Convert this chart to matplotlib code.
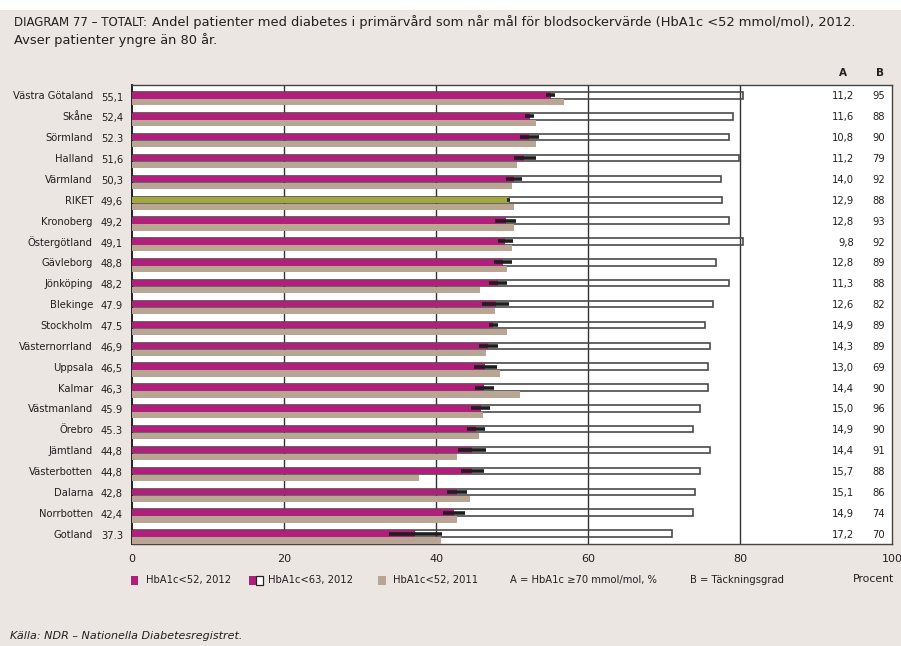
import matplotlib
matplotlib.use('Agg')
import matplotlib.pyplot as plt
from matplotlib.patches import Rectangle
import matplotlib.transforms as mtransforms

# ---------------- data ----------------
regions = ["Västra Götaland", "Skåne", "Sörmland", "Halland", "Värmland", "RIKET",
           "Kronoberg", "Östergötland", "Gävleborg", "Jönköping", "Blekinge",
           "Stockholm", "Västernorrland", "Uppsala", "Kalmar", "Västmanland",
           "Örebro", "Jämtland", "Västerbotten", "Dalarna", "Norrbotten", "Gotland"]
value_labels = ["55,1", "52,4", "52.3", "51,6", "50,3", "49,6", "49,2", "49,1", "48,8",
                "48,2", "47.9", "47.5", "46,9", "46,5", "46,3", "45.9", "45.3", "44,8",
                "44,8", "42,8", "42,4", "37.3"]
hba1c52_2012 = [55.1, 52.4, 52.3, 51.6, 50.3, 49.6, 49.2, 49.1, 48.8, 48.2, 47.9,
                47.5, 46.9, 46.5, 46.3, 45.9, 45.3, 44.8, 44.8, 42.8, 42.4, 37.3]
hba1c63_2012 = [80.4, 79.1, 78.6, 79.9, 77.5, 77.6, 78.6, 80.4, 76.8, 78.6, 76.5,
                75.4, 76.0, 75.8, 75.8, 74.8, 73.8, 76.0, 74.8, 74.1, 73.8, 71.0]
hba1c52_2011 = [56.8, 53.2, 53.2, 50.7, 50.0, 50.3, 50.3, 50.0, 49.4, 45.8, 47.8,
                49.3, 46.6, 48.4, 51.1, 46.2, 45.6, 42.8, 37.8, 44.5, 42.8, 40.7]
ci_low = [54.5, 51.7, 51.0, 50.2, 49.2, 49.3, 47.8, 48.2, 47.6, 47.0, 46.0,
          47.0, 45.7, 45.0, 45.1, 44.6, 44.1, 42.9, 43.3, 41.4, 40.9, 33.8]
ci_high = [55.7, 52.9, 53.5, 53.2, 51.3, 49.8, 50.5, 50.1, 50.0, 49.3, 49.6,
           48.1, 48.1, 48.0, 47.6, 47.1, 46.4, 46.6, 46.3, 44.1, 43.8, 40.8]
col_a = [11.2, 11.6, 10.8, 11.2, 14.0, 12.9, 12.8, 9.8, 12.8, 11.3, 12.6,
         14.9, 14.3, 13.0, 14.4, 15.0, 14.9, 14.4, 15.7, 15.1, 14.9, 17.2]
col_b = [95, 88, 90, 79, 92, 88, 93, 92, 89, 88, 82, 89, 89, 69, 90, 96, 90, 91, 88, 86, 74, 70]
xticks = [0, 20, 40, 60, 80, 100]

# ---------------- style ----------------
plt.rcParams['font.family'] = ['DejaVu Sans']
BG = '#ebe6e1'
MAGENTA = '#b0207a'
BEIGE = '#b9a594'
GREEN = '#a4a83c'
TXT = '#231f20'
FS = 7.2

W, H = 901, 646
fig = plt.figure(figsize=(W / 100, H / 100), dpi=100, facecolor=BG)


def fx(x):
    return x / W


def fy(y):
    return 1 - y / H


# white strip at the very top
fig.patches.append(Rectangle((0, fy(10)), 1, 10 / H, transform=fig.transFigure,
                             facecolor='white', edgecolor='none', zorder=0))

ax = fig.add_axes([fx(132), fy(544), fx(892) - fx(132), (544 - 85) / H])
ax.set_facecolor('white')
n = len(regions)
ys = list(range(n))
ax.set_xlim(0, 100)
ax.set_ylim(n - 0.5, -0.5)

for g in [20, 40, 60, 80]:
    ax.axvline(g, color='#333333', lw=1.0, zorder=1)

h = 0.31
# outline bar (HbA1c<63)
ax.barh(ys, hba1c63_2012, height=h, left=0, facecolor='none', edgecolor='#4a4a4a',
        lw=1.2, zorder=2)
# 2011 bars
ax.barh([y + 0.33 for y in ys], hba1c52_2011, height=0.30, color=BEIGE, zorder=3)
# 2012 bars
cols = [GREEN if r == 'RIKET' else MAGENTA for r in regions]
ax.barh(ys, hba1c52_2012, height=h, color=cols, zorder=4)
# confidence intervals
ax.hlines(ys, ci_low, ci_high, color='#1e1e1e', lw=2.6, zorder=5)

for s in ax.spines.values():
    s.set_color('#444444')
    s.set_linewidth(1.0)
ax.spines['left'].set_color('#222222')
ax.spines['left'].set_linewidth(1.4)

ax.set_yticks([])
ax.set_xticks(xticks)
ax.set_xticklabels([str(t) for t in xticks], fontsize=8, color=TXT)
ax.tick_params(axis='x', length=0, pad=7)

# category labels & values
blend = mtransforms.blended_transform_factory(fig.transFigure, ax.transData)
for i, (r, v) in enumerate(zip(regions, value_labels)):
    ax.text(fx(93), i + 0.05, r, transform=blend, ha='right', va='center',
            fontsize=FS, color=TXT, clip_on=False)
    ax.text(fx(101), i + 0.1, v, transform=blend, ha='left', va='center',
            fontsize=FS, color=TXT, clip_on=False)
    ax.text(fx(854), i + 0.05, f"{col_a[i]:.1f}".replace('.', ','), transform=blend,
            ha='right', va='center', fontsize=FS, color=TXT, clip_on=False)
    ax.text(fx(885), i + 0.05, str(col_b[i]), transform=blend,
            ha='right', va='center', fontsize=FS, color=TXT, clip_on=False)

fig.text(fx(843), fy(73), "A", ha='center', va='center', fontsize=7.5, color=TXT,
         weight='bold')
fig.text(fx(880), fy(73), "B", ha='center', va='center', fontsize=7.5, color=TXT,
         weight='bold')

# title
fig.canvas.draw()
renderer = fig.canvas.get_renderer()
t1 = fig.text(fx(14), fy(22), "DIAGRAM 77 – TOTALT:", ha='left', va='center',
              fontsize=8.5, color=TXT)
bb = t1.get_window_extent(renderer)
t2 = fig.text(bb.x1 / W + fx(5), fy(22),
              "Andel patienter med diabetes i primärvård som når mål för blodsockervärde (HbA1c <52 mmol/mol), 2012.",
              ha='left', va='center', fontsize=10, color=TXT)
wt = t2.get_window_extent(renderer).width
tfs = 10 * 703 / wt
t2.set_fontsize(tfs)
fig.text(fx(14), fy(40), "Avser patienter yngre än 80 år.", ha='left', va='center',
         fontsize=tfs, color=TXT)

# legend
ly = 580
def sq(x, color, w=7, hh=9, edge='none'):
    fig.patches.append(Rectangle((fx(x), fy(ly + hh / 2)), w / W, hh / H,
                                 transform=fig.transFigure, facecolor=color,
                                 edgecolor=edge, lw=0.9, zorder=3))

sq(131, MAGENTA)
fig.text(fx(146), fy(ly), "HbA1c<52, 2012", ha='left', va='center', fontsize=FS, color=TXT)
sq(249, MAGENTA)
sq(256, 'white', edge='#222222')
fig.text(fx(268), fy(ly), "HbA1c<63, 2012", ha='left', va='center', fontsize=FS, color=TXT)
sq(378, BEIGE, w=8)
fig.text(fx(393), fy(ly), "HbA1c<52, 2011", ha='left', va='center', fontsize=FS, color=TXT)
fig.text(fx(510), fy(ly), "A = HbA1c ≥70 mmol/mol, %", ha='left', va='center',
         fontsize=FS, color=TXT)
fig.text(fx(690), fy(ly), "B = Täckningsgrad", ha='left', va='center', fontsize=FS, color=TXT)
fig.text(fx(894), fy(579), "Procent", ha='right', va='center', fontsize=7.8, color=TXT)

fig.text(fx(10), fy(636), "Källa: NDR – Nationella Diabetesregistret.", ha='left',
         va='center', fontsize=8.0, style='italic', color=TXT)

fig.savefig('out.png', dpi=100, facecolor=BG)
